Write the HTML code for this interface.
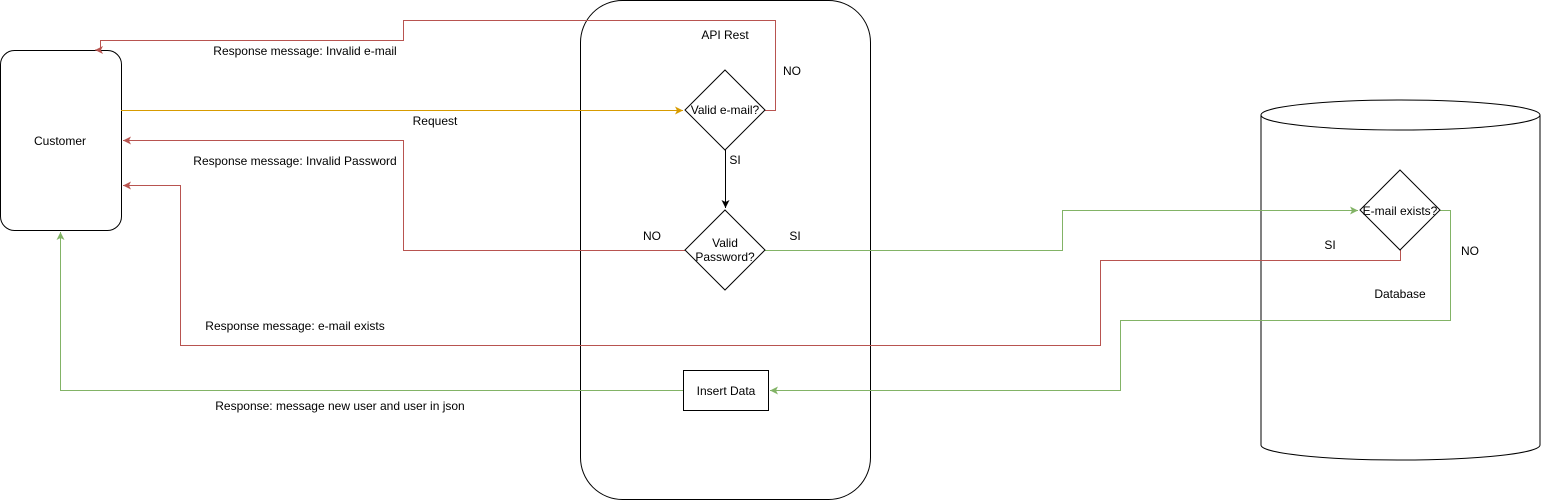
<!DOCTYPE html>
<html><head><meta charset="utf-8"><style>
body{margin:0;background:#fff;}
svg{display:block;font-family:"Liberation Sans",Arial,sans-serif;font-size:12px;}
</style></head><body>
<svg width="1541" height="501" viewBox="0 0 1541 501" xmlns="http://www.w3.org/2000/svg">
<defs>
<marker id="r" markerWidth="10" markerHeight="10" refX="8" refY="4" orient="auto" markerUnits="userSpaceOnUse"><path d="M0,0 L8,4 L0,8 L2,4 z" fill="#b85450"/></marker>
<marker id="g" markerWidth="10" markerHeight="10" refX="8" refY="4" orient="auto" markerUnits="userSpaceOnUse"><path d="M0,0 L8,4 L0,8 L2,4 z" fill="#82b366"/></marker>
<marker id="y" markerWidth="10" markerHeight="10" refX="8" refY="4" orient="auto" markerUnits="userSpaceOnUse"><path d="M0,0 L8,4 L0,8 L2,4 z" fill="#d79b00"/></marker>
<marker id="k" markerWidth="10" markerHeight="10" refX="8" refY="4" orient="auto" markerUnits="userSpaceOnUse"><path d="M0,0 L8,4 L0,8 L2,4 z" fill="#000"/></marker>
</defs>
<rect x="0.5" y="50.5" width="121" height="180" rx="14" fill="#fff" stroke="#000"/>
<text x="60" y="145" text-anchor="middle">Customer</text>
<rect x="580.5" y="0.5" width="290" height="499" rx="42" fill="#fff" stroke="#000"/>
<text x="725" y="39" text-anchor="middle">API Rest</text>
<path d="M1261,115 L1261,445 A139.5,15 0 0 0 1540,445 L1540,115" fill="#fff" stroke="#000"/>
<ellipse cx="1400.5" cy="115" rx="139.5" ry="15" fill="#fff" stroke="#000"/>
<text x="1400" y="298" text-anchor="middle">Database</text>
<g fill="none" stroke-width="1">
<path d="M121,110.5 H683" stroke="#d79b00" marker-end="url(#y)"/>
<path d="M765,110.5 H775.5 V20.5 H403.5 V40.5 H100.5 V50 H95" stroke="#b85450" marker-end="url(#r)"/>
<path d="M725.5,150 V208" stroke="#000" marker-end="url(#k)"/>
<path d="M685,250.5 H403.5 V140.5 H123" stroke="#b85450" marker-end="url(#r)"/>
<path d="M765,250.5 H1062.5 V210.5 H1358" stroke="#82b366" marker-end="url(#g)"/>
<path d="M1400.5,250 V260.5 H1100.5 V345.5 H180.5 V185.5 H123" stroke="#b85450" marker-end="url(#r)"/>
<path d="M1440,210.5 H1450.5 V320.5 H1120.5 V390.5 H770" stroke="#82b366" marker-end="url(#g)"/>
<path d="M683,390.5 H60.5 V232" stroke="#82b366" marker-end="url(#g)"/>
</g>
<polygon points="725,70 765,110 725,150 685,110" fill="#fff" stroke="#000"/>
<text x="725" y="114" text-anchor="middle">Valid e-mail?</text>
<polygon points="725,210 765,250 725,290 685,250" fill="#fff" stroke="#000"/>
<text x="725" y="247" text-anchor="middle">Valid</text>
<text x="725" y="261" text-anchor="middle">Password?</text>
<polygon points="1400,170 1440,210 1400,250 1360,210" fill="#fff" stroke="#000"/>
<text x="1400" y="215" text-anchor="middle">E-mail exists?</text>
<rect x="683.5" y="370.5" width="85" height="40" fill="#fff" stroke="#000"/>
<text x="726" y="395" text-anchor="middle">Insert Data</text>
<text x="305" y="55" text-anchor="middle">Response message: Invalid e-mail</text>
<text x="435" y="125" text-anchor="middle">Request</text>
<text x="295" y="165" text-anchor="middle">Response message: Invalid Password</text>
<text x="295" y="330" text-anchor="middle">Response message: e-mail exists</text>
<text x="340" y="410" text-anchor="middle">Response: message new user and user in json</text>
<text x="792" y="75" text-anchor="middle">NO</text>
<text x="735" y="164" text-anchor="middle">SI</text>
<text x="652" y="240" text-anchor="middle">NO</text>
<text x="795" y="240" text-anchor="middle">SI</text>
<text x="1330" y="249" text-anchor="middle">SI</text>
<text x="1470" y="255" text-anchor="middle">NO</text>
</svg>
</body></html>
